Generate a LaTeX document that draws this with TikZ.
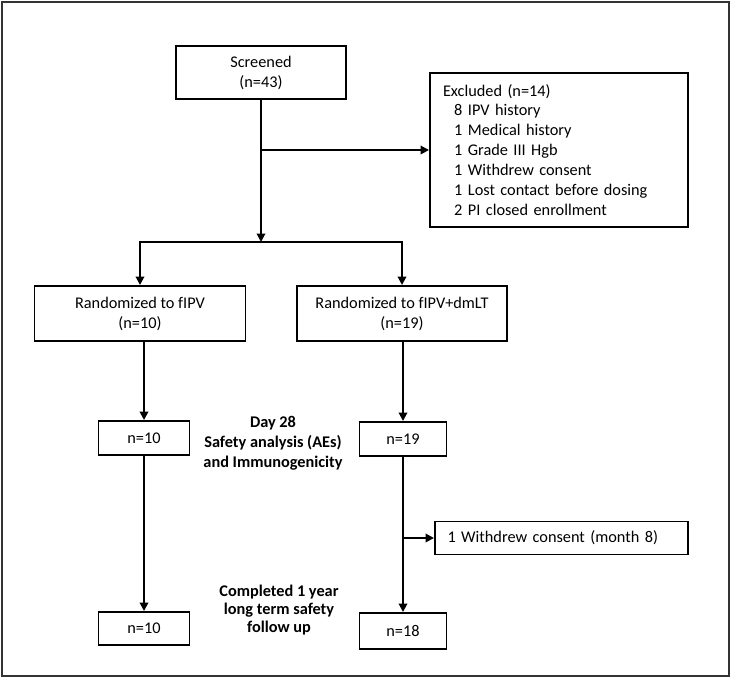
\documentclass[tikz,border=0pt]{standalone}
\usepackage{fontspec}
\setmainfont{Carlito}
\usetikzlibrary{arrows.meta,positioning}

\begin{document}
\begin{tikzpicture}[>={Triangle[length=6pt,width=6pt]},line width=1.4pt,
    font=\fontsize{11.6}{14.2}\selectfont,
    box/.style={draw,line width=1.4pt,inner sep=2pt,align=center},
    note/.style={font=\fontsize{11.6}{14.2}\selectfont\bfseries,align=center}]

                \useasboundingbox (0,0) rectangle (18.3,-16.975);
                \draw[line width=1.5pt,black!80] (0.05,-0.05) rectangle (18.225,-16.9);

                \node[box,minimum width=4.25cm,minimum height=1.325cm] (screened) at (6.525,-1.8125) {Screened\\(n=43)};

                \node[box,minimum width=6.45cm,minimum height=3.85cm,text width=5.8cm,align=left] (excl) at (13.975,-3.75)
                    {Excluded (n=14)\\
                     \hspace*{0.28cm}8 IPV history\\
                     \hspace*{0.28cm}1 Medical history\\
                     \hspace*{0.28cm}1 Grade III Hgb\\
                     \hspace*{0.28cm}1 Withdrew consent\\
                     \hspace*{0.28cm}1 Lost contact before dosing\\
                     \hspace*{0.28cm}2 PI closed enrollment};

                \coordinate (split) at (6.525,-6.05);

                \node[box,minimum width=5.275cm,minimum height=1.375cm] (rfipv) at (3.5,-7.8375) {Randomized to fIPV\\(n=10)};

                \node[box,minimum width=5.25cm,minimum height=1.375cm] (rdmlt) at (10.05,-7.8375) {Randomized to fIPV+dmLT\\(n=19)};

                \node[box,minimum width=2.275cm,minimum height=0.85cm] (n10a) at (3.6,-10.95) {n=10};

                \node[box,minimum width=2.175cm,minimum height=0.85cm] (n19) at (10.075,-10.975) {n=19};

                \node[note] (day28) at (6.825,-11.075) {Day 28\\Safety analysis (AEs)\\and Immunogenicity};

                \node[box,minimum width=6.325cm,minimum height=0.825cm,text width=5.7cm,align=left] (wd) at (14.0375,-13.45) {1 Withdrew consent (month 8)};

                \node[box,minimum width=2.275cm,minimum height=0.825cm] (n10b) at (3.6,-15.7125) {n=10};

                \node[box,minimum width=2.175cm,minimum height=0.9cm] (n18) at (10.075,-15.775) {n=18};

                \node[note,font=\fontsize{11.6}{12.6}\selectfont\bfseries] (done) at (6.975,-15.25) {Completed 1 year\\long term safety\\follow up};

                \coordinate (bx) at (screened.south |- excl.west);
                \coordinate (wx) at (n19.south |- wd.west);

                \draw[->] (screened) -- (split);
                \draw[->] (split) -| (rfipv);
                \draw[->] (split) -| (rdmlt);
                \draw[->] (bx) -- (excl);
                \draw[->] (n10a.north |- rfipv.south) -- (n10a);
                \draw[->] (n19.north |- rdmlt.south) -- (n19);
                \draw[->] (n10a) -- (n10b);
                \draw[->] (n19) -- (n18);
                \draw[->] (wx) -- (wd);

            \end{tikzpicture}
\end{document}
